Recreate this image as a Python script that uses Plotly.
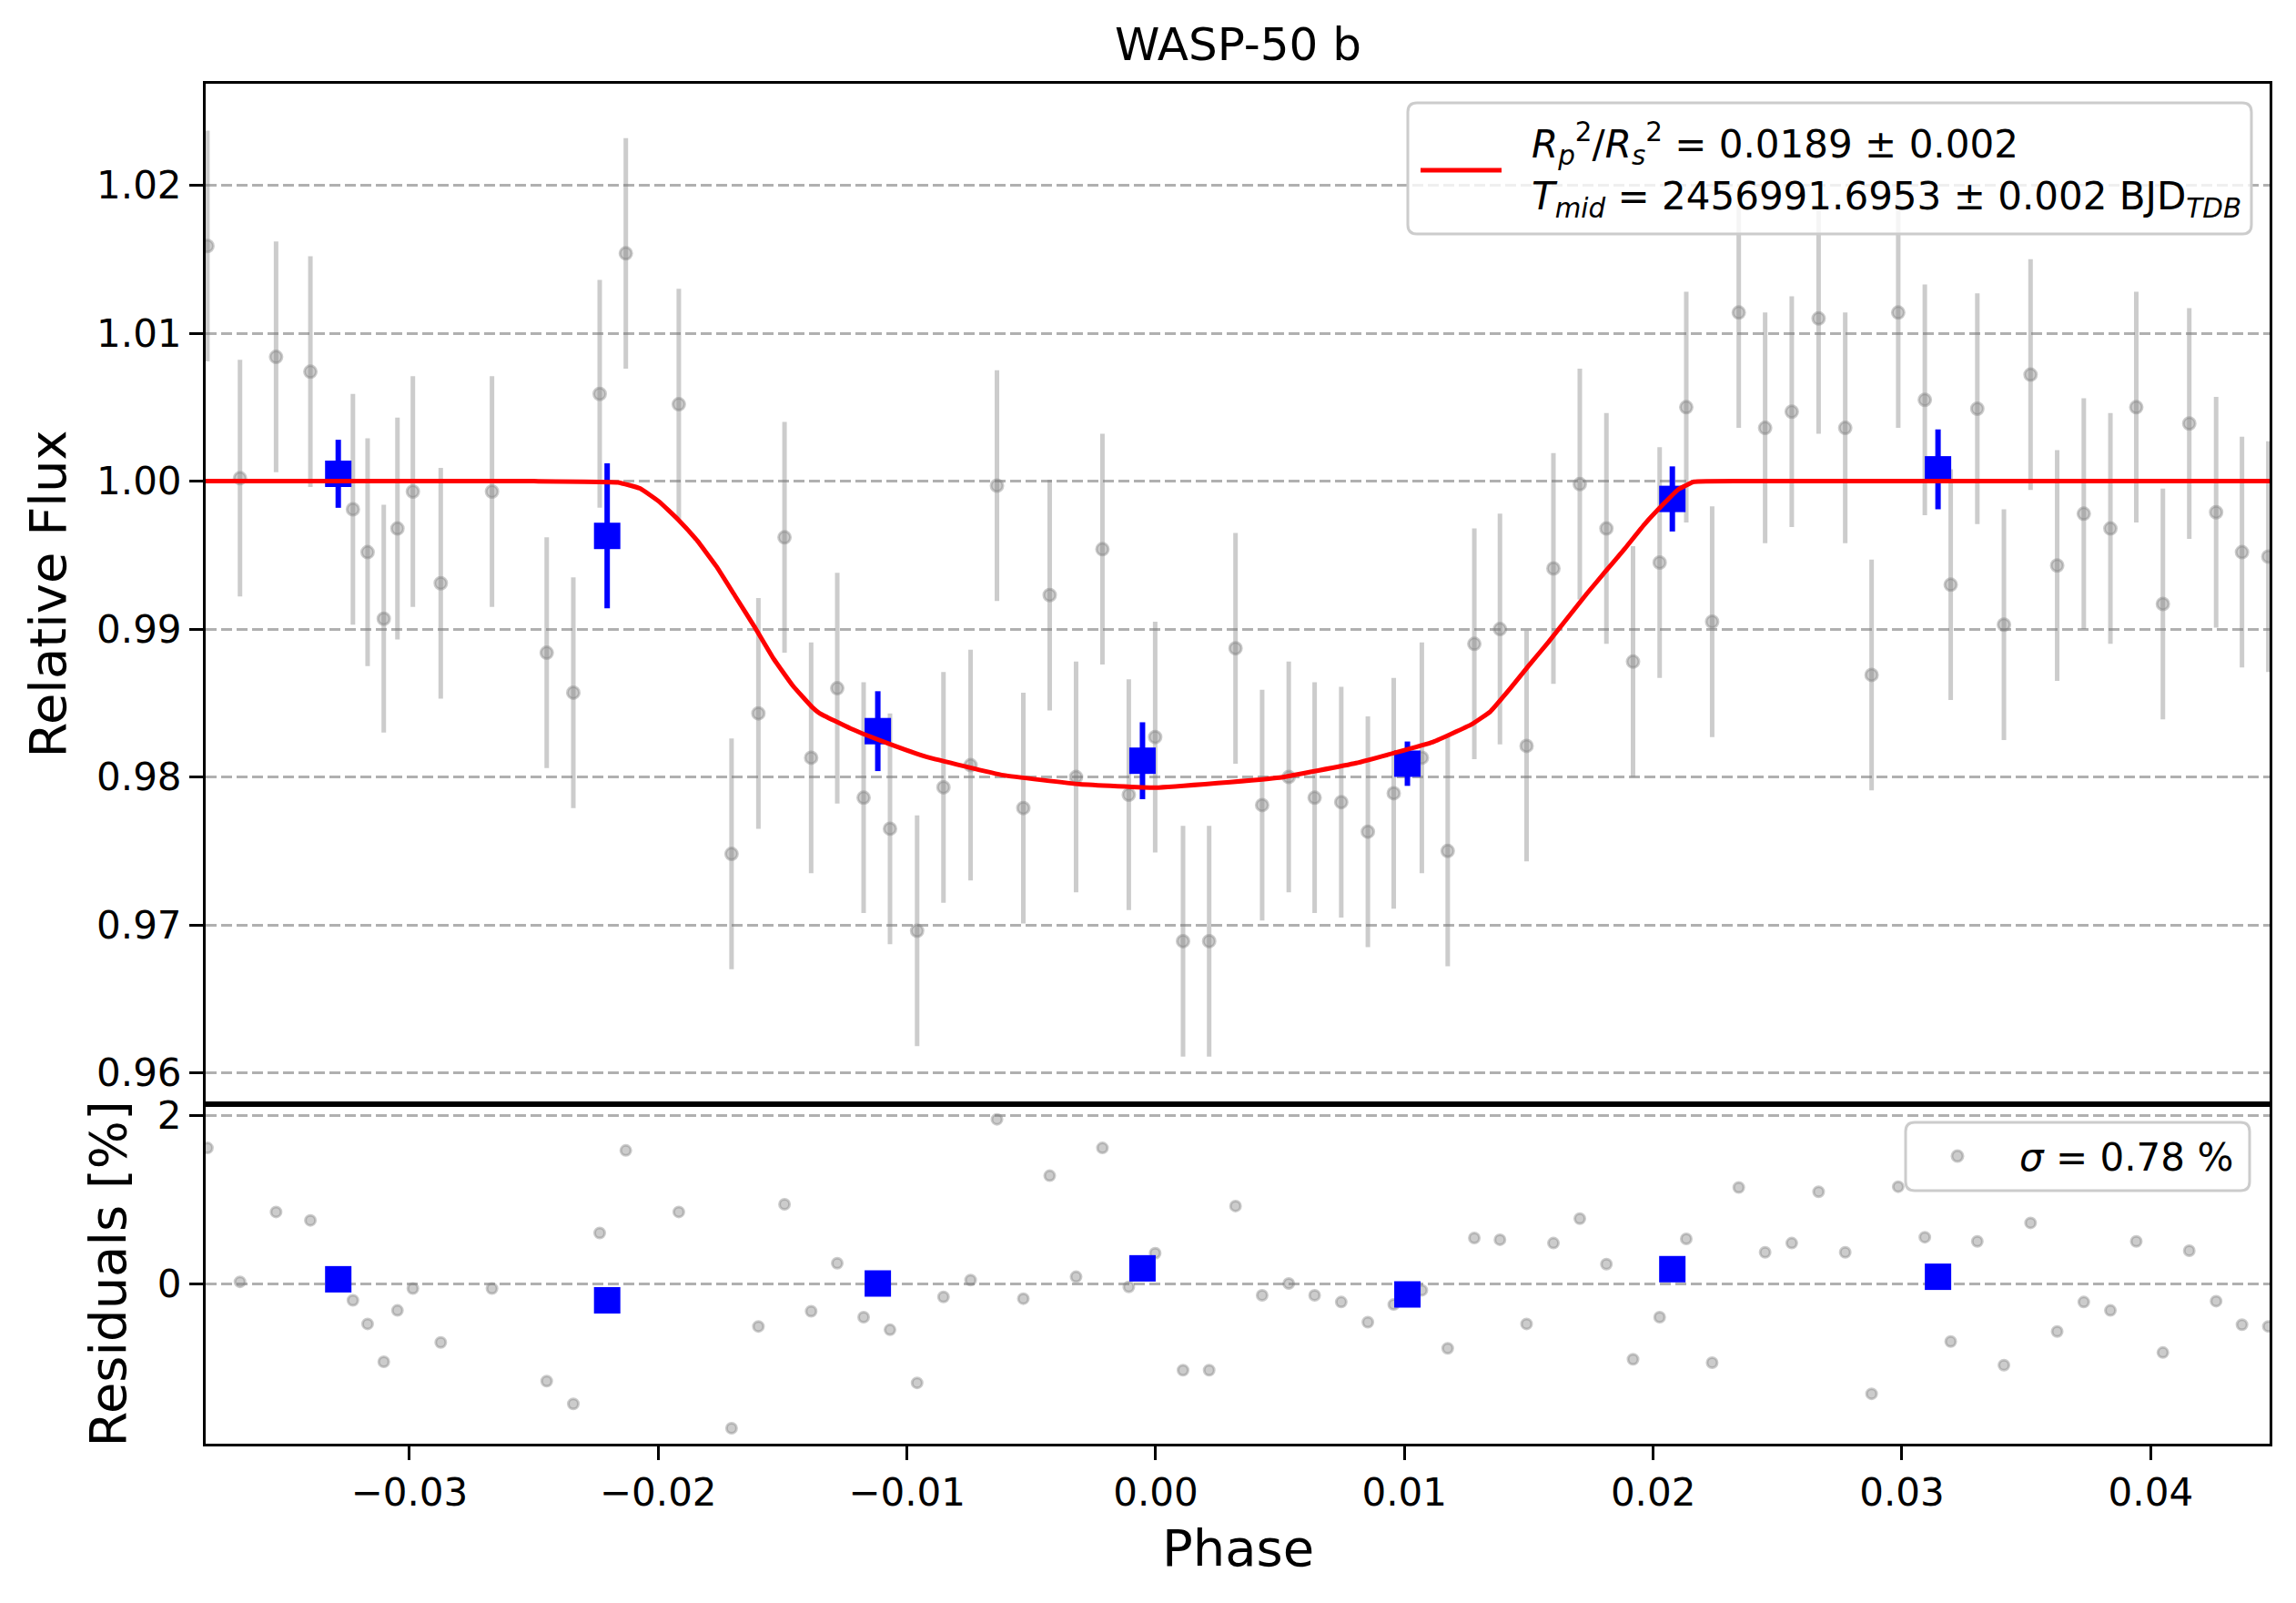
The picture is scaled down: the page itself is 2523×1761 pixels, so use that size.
import plotly.graph_objects as go

# -----------------------------
# Data
# -----------------------------
phase = [
    -0.03812, -0.03681, -0.03536, -0.03398, -0.03227, -0.03168, -0.03103, -0.03048,
    -0.02986, -0.02874, -0.02668, -0.02448, -0.02341, -0.02235, -0.02130, -0.01917,
    -0.01705, -0.01597, -0.01492, -0.01385, -0.01280, -0.01174, -0.01068, -0.00959,
    -0.00853, -0.00744, -0.00638, -0.00532, -0.00426, -0.00320, -0.00214, -0.00108,
    -0.00002, 0.00110, 0.00215, 0.00321, 0.00428, 0.00535, 0.00639, 0.00746,
    0.00853, 0.00957, 0.01070, 0.01174, 0.01281, 0.01384, 0.01491, 0.01599,
    0.01705, 0.01812, 0.01919, 0.02026, 0.02133, 0.02237, 0.02344, 0.02450,
    0.02557, 0.02665, 0.02772, 0.02878, 0.02985, 0.03092, 0.03196, 0.03303,
    0.03410, 0.03517, 0.03624, 0.03731, 0.03838, 0.03942, 0.04049, 0.04155,
    0.04263, 0.04367, 0.04473,
]
flux = [
    1.0159, 1.0002, 1.0084, 1.0074, 0.9981, 0.9952, 0.9907, 0.9968,
    0.9993, 0.9931, 0.9993, 0.9884, 0.9857, 1.0059, 1.0154, 1.0052,
    0.9748, 0.9843, 0.9962, 0.9813, 0.9860, 0.9786, 0.9765, 0.9696,
    0.9793, 0.9808, 0.9997, 0.9779, 0.9923, 0.9800, 0.9954, 0.9788,
    0.9827, 0.9689, 0.9689, 0.9887, 0.9781, 0.9800, 0.9786, 0.9783,
    0.9763, 0.9789, 0.9813, 0.9750, 0.9890, 0.9900, 0.9821, 0.9941,
    0.9998, 0.9968, 0.9878, 0.9945, 1.0050, 0.9905, 1.0114, 1.0036,
    1.0047, 1.0110, 1.0036, 0.9869, 1.0114, 1.0055, 0.9930, 1.0049,
    0.9903, 1.0072, 0.9943, 0.9978, 0.9968, 1.0050, 0.9917, 1.0039,
    0.9979, 0.9952, 0.9949,
]
flux_err = [
    0.0078, 0.0080, 0.0078, 0.0078, 0.0078, 0.0077, 0.0077, 0.0075,
    0.0078, 0.0078, 0.0078, 0.0078, 0.0078, 0.0077, 0.0078, 0.0078,
    0.0078, 0.0078, 0.0078, 0.0078, 0.0078, 0.0078, 0.0078, 0.0078,
    0.0078, 0.0078, 0.0078, 0.0078, 0.0078, 0.0078, 0.0078, 0.0078,
    0.0078, 0.0078, 0.0078, 0.0078, 0.0078, 0.0078, 0.0078, 0.0078,
    0.0078, 0.0078, 0.0078, 0.0078, 0.0078, 0.0078, 0.0078, 0.0078,
    0.0078, 0.0078, 0.0078, 0.0078, 0.0078, 0.0078, 0.0078, 0.0078,
    0.0078, 0.0078, 0.0078, 0.0078, 0.0078, 0.0078, 0.0078, 0.0078,
    0.0078, 0.0078, 0.0078, 0.0078, 0.0078, 0.0078, 0.0078, 0.0078,
    0.0078, 0.0078, 0.0078,
]
residuals = [
    1.61, 0.02, 0.85, 0.75, -0.20, -0.48, -0.93, -0.32,
    -0.06, -0.70, -0.06, -1.16, -1.43, 0.60, 1.58, 0.85,
    -1.72, -0.51, 0.94, -0.33, 0.24, -0.40, -0.55, -1.18,
    -0.16, 0.04, 1.95, -0.18, 1.28, 0.08, 1.61, -0.04,
    0.36, -1.03, -1.03, 0.92, -0.14, 0.00, -0.14, -0.22,
    -0.46, -0.25, -0.08, -0.77, 0.54, 0.52, -0.48, 0.48,
    0.77, 0.23, -0.90, -0.40, 0.53, -0.94, 1.14, 0.37,
    0.48, 1.09, 0.37, -1.31, 1.15, 0.55, -0.69, 0.50,
    -0.97, 0.72, -0.57, -0.22, -0.32, 0.50, -0.82, 0.39,
    -0.21, -0.49, -0.51,
]

bin_phase = [-0.03286, -0.02205, -0.01117, -0.00053, 0.01012, 0.02077, 0.03145]
bin_flux = [1.0005, 0.9963, 0.9831, 0.9811, 0.9809, 0.9988, 1.0008]
bin_err = [0.0023, 0.0049, 0.0027, 0.0026, 0.0015, 0.0022, 0.0027]
bin_resid = [0.05, -0.20, 0.00, 0.18, -0.13, 0.17, 0.08]

model_phase = [
    -0.03819, -0.0300, -0.0250, -0.02162, -0.02073, -0.01997, -0.01920, -0.01843,
    -0.01766, -0.01689, -0.01612, -0.01536, -0.01458, -0.01381, -0.01351, -0.01227,
    -0.01074, -0.00919, -0.00612, -0.00304, 0.0, 0.00498, 0.00806, 0.01115,
    0.01269, 0.01345, 0.01426, 0.01503, 0.01579, 0.01656, 0.01733, 0.01810,
    0.01887, 0.01964, 0.02040, 0.02102, 0.02164, 0.0250, 0.0300, 0.04478,
]
model_flux = [
    1.0, 1.0, 1.0, 0.99992, 0.99951, 0.99863, 0.99741, 0.99598,
    0.99424, 0.99219, 0.99014, 0.98800, 0.98616, 0.98472, 0.98431, 0.98328,
    0.98226, 0.98135, 0.98012, 0.97951, 0.97928, 0.97996, 0.98094, 0.98237,
    0.98355, 0.98442, 0.98600, 0.98760, 0.98912, 0.99076, 0.99239, 0.99393,
    0.99546, 0.99706, 0.99843, 0.99945, 0.99996, 1.0, 1.0, 1.0,
]

x_ticks = [-0.03, -0.02, -0.01, 0.00, 0.01, 0.02, 0.03, 0.04]
x_tick_text = ["\u22120.03", "\u22120.02", "\u22120.01", "0.00", "0.01", "0.02", "0.03", "0.04"]
flux_ticks = [0.96, 0.97, 0.98, 0.99, 1.00, 1.01, 1.02]
flux_tick_text = ["0.96", "0.97", "0.98", "0.99", "1.00", "1.01", "1.02"]
resid_ticks = [-2, 0, 2]
resid_tick_text = ["\u22122", "0", "2"]

model_label = ("<i>R</i><sub><i>p</i></sub><sup>2</sup>/<i>R</i><sub><i>s</i></sub><sup>2</sup>"
               " = 0.0189 \u00b1 0.002")
tmid_label = "<i>T</i><sub><i>mid</i></sub> = 2456991.6953 \u00b1 0.002 BJD<sub><i>TDB</i></sub>"
sigma_label = "<i>\u03c3</i> = 0.78 %"

# -----------------------------
# Geometry (page pixels, body has 8px margin)
# -----------------------------
OFF = 8
W, H = 2523 - 2 * OFF, 1761 - 2 * OFF
L, R, T, B = 226 - OFF, 2523 - 2494 - OFF, 92 - OFF, 1761 - 1586 - OFF
PW, PH = W - L - R, H - T - B
split = (1586 - 1213) / PH
FONT = "DejaVu Sans"


def paper(px, py):
    return (px - OFF - L) / PW, 1 - (py - OFF - T) / PH


def rounded_box(x0, y0, x1, y1, r):
    ax, ay = paper(x0, y0)
    bx, by = paper(x1, y1)
    rx, ry = r / PW, r / PH
    return (f"M{ax + rx},{ay} L{bx - rx},{ay} Q{bx},{ay} {bx},{ay - ry} "
            f"L{bx},{by + ry} Q{bx},{by} {bx - rx},{by} L{ax + rx},{by} "
            f"Q{ax},{by} {ax},{by + ry} L{ax},{ay - ry} Q{ax},{ay} {ax + rx},{ay} Z")


gray = "rgba(128,128,128,0.4)"

fig = go.Figure()

# top panel
fig.add_trace(go.Scatter(
    x=phase, y=flux, mode="markers", xaxis="x", yaxis="y",
    marker=dict(size=13, color=gray, line=dict(color=gray, width=3)),
    error_y=dict(type="data", array=flux_err, color=gray, thickness=5, width=0),
    showlegend=False,
))
fig.add_trace(go.Scatter(
    x=bin_phase, y=bin_flux, mode="markers", xaxis="x", yaxis="y",
    marker=dict(symbol="square", size=29, color="blue", line=dict(width=0)),
    error_y=dict(type="data", array=bin_err, color="blue", thickness=6, width=0),
    showlegend=False,
))
fig.add_trace(go.Scatter(
    x=model_phase, y=model_flux, mode="lines", xaxis="x", yaxis="y",
    line=dict(color="red", width=5, shape="spline", smoothing=0.3), showlegend=False,
))

# residual panel
fig.add_trace(go.Scatter(
    x=phase, y=residuals, mode="markers", xaxis="x2", yaxis="y2",
    marker=dict(size=11, color=gray, line=dict(color=gray, width=3)),
    showlegend=False,
))
fig.add_trace(go.Scatter(
    x=bin_phase, y=bin_resid, mode="markers", xaxis="x2", yaxis="y2",
    marker=dict(symbol="square", size=29, color="blue", line=dict(width=0)),
    showlegend=False,
))

axis_common = dict(
    showline=True, linecolor="black", linewidth=3, mirror=True,
    zeroline=False, tickfont=dict(family=FONT, size=42, color="black"),
)
x_range = [-0.03819, 0.04478]

fig.update_layout(
    width=W, height=H,
    margin=dict(l=L, r=R, t=T, b=B, pad=0),
    paper_bgcolor="white", plot_bgcolor="white",
    font=dict(family=FONT, color="black"),
    xaxis=dict(domain=[0, 1], anchor="y", range=x_range, showgrid=False,
               ticks="", showticklabels=False, **axis_common),
    yaxis=dict(domain=[split, 1], anchor="x", range=[0.95788, 1.02687],
               tickvals=flux_ticks, ticktext=flux_tick_text,
               ticks="outside", ticklen=15, tickwidth=3, tickcolor="black",
               showgrid=True, gridcolor="#b0b0b0", gridwidth=3, griddash="12px,5px",
               **axis_common),
    xaxis2=dict(domain=[0, 1], anchor="y2", range=x_range, showgrid=False,
                tickvals=x_ticks, ticktext=x_tick_text,
                ticks="outside", ticklen=15, tickwidth=3, tickcolor="black",
                **axis_common),
    yaxis2=dict(domain=[0, split], anchor="x2", range=[-1.903, 2.13],
                tickvals=resid_ticks, ticktext=resid_tick_text,
                ticks="outside", ticklen=15, tickwidth=3, tickcolor="black",
                showgrid=True, gridcolor="#b0b0b0", gridwidth=3, griddash="12px,5px",
                **axis_common),
)

# hand-drawn legends (matplotlib style)
fig.add_shape(type="path", xref="paper", yref="paper", layer="above",
              path=rounded_box(1547, 113, 2474, 257, 10),
              fillcolor="rgba(255,255,255,0.8)", line=dict(color="#cccccc", width=3))
lx0, ly0 = paper(1561, 187)
lx1, _ = paper(1650, 187)
fig.add_shape(type="line", xref="paper", yref="paper", layer="above",
              x0=lx0, x1=lx1, y0=ly0, y1=ly0, line=dict(color="red", width=5))
fig.add_shape(type="path", xref="paper", yref="paper", layer="above",
              path=rounded_box(2094, 1233, 2472, 1308, 10),
              fillcolor="rgba(255,255,255,0.8)", line=dict(color="#cccccc", width=3))
mx, my = paper(2151, 1270)
fig.add_shape(type="circle", xref="paper", yref="paper", layer="above",
              xsizemode="pixel", ysizemode="pixel", xanchor=mx, yanchor=my,
              x0=-6, x1=6, y0=-6, y1=6, fillcolor=gray, line=dict(color=gray, width=3))

tx, ty = paper(1681, 158)
fig.add_annotation(x=tx, y=ty, xref="paper", yref="paper", text=model_label,
                   showarrow=False, xanchor="left", yanchor="middle",
                   font=dict(family=FONT, size=42, color="black"))
tx, ty = paper(1681, 219)
fig.add_annotation(x=tx, y=ty, xref="paper", yref="paper", text=tmid_label,
                   showarrow=False, xanchor="left", yanchor="middle",
                   font=dict(family=FONT, size=42, color="black"))
tx, ty = paper(2456, 1271)
fig.add_annotation(x=tx, y=ty, xref="paper", yref="paper", text=sigma_label,
                   showarrow=False, xanchor="right", yanchor="middle",
                   font=dict(family=FONT, size=42, color="black"))

# title and axis titles
fig.add_annotation(x=0.5, y=1, xref="paper", yref="paper", text="WASP-50 b",
                   showarrow=False, xanchor="center", yanchor="bottom", yshift=12,
                   font=dict(family=FONT, size=50, color="black"))
fig.add_annotation(x=0, y=(1 + split) / 2, xref="paper", yref="paper", text="Relative Flux",
                   showarrow=False, textangle=-90, xanchor="center", yanchor="middle",
                   xshift=52 - 226, font=dict(family=FONT, size=56, color="black"))
fig.add_annotation(x=0, y=split / 2, xref="paper", yref="paper", text="Residuals [%]",
                   showarrow=False, textangle=-90, xanchor="center", yanchor="middle",
                   xshift=118 - 226, font=dict(family=FONT, size=56, color="black"))
fig.add_annotation(x=0.5, y=0, xref="paper", yref="paper", text="Phase",
                   showarrow=False, xanchor="center", yanchor="middle",
                   yshift=-(1700 - 1586), font=dict(family=FONT, size=56, color="black"))

fig.write_html("out.html")
